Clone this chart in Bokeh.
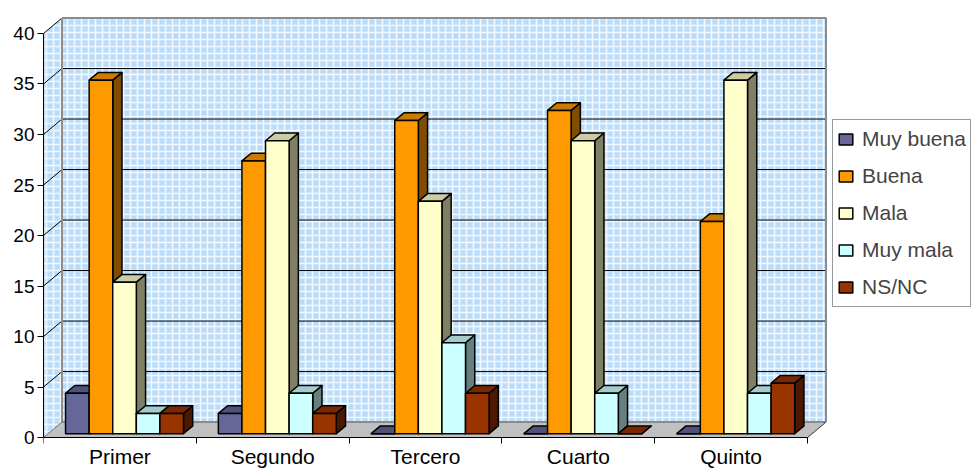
from bokeh.plotting import figure
from bokeh.models import Range1d, FixedTicker, Legend, LegendItem
from bokeh.embed import file_html
from bokeh.resources import INLINE

# ---- data -------------------------------------------------------------
categories = ["Primer", "Segundo", "Tercero", "Cuarto", "Quinto"]
series_names = ["Muy buena", "Buena", "Mala", "Muy mala", "NS/NC"]
muy_buena = [4, 2, 0, 0, 0]
buena = [35, 27, 31, 32, 21]
mala = [15, 29, 23, 29, 35]
muy_mala = [2, 4, 9, 4, 4]
ns_nc = [2, 2, 4, 0, 5]
y_ticks = [0, 5, 10, 15, 20, 25, 30, 35, 40]

series_values = [muy_buena, buena, mala, muy_mala, ns_nc]
front_colors = ["#666699", "#FF9900", "#FFFFCC", "#CCFFFF", "#993300"]

FONT = "Liberation Sans"
Y_MAX = y_ticks[-1]
N_CAT = len(categories)
N_SER = len(series_names)

# pseudo-3D geometry: full depth of the box in data units
DX = 0.121          # horizontal shift (category units)
DY = 1.53           # vertical shift (value units)
Z_FRONT, Z_BACK = 0.25, 0.75   # bars occupy the middle of the depth
GAP = 0.114         # empty space on each side of a category group
W = (1 - 2 * GAP) / N_SER


def shade(hex_color, k):
    h = hex_color.lstrip("#")
    r, g, b = (int(h[i:i + 2], 16) for i in (0, 2, 4))
    return "#%02x%02x%02x" % (int(r * k), int(g * k), int(b * k))


# the frame runs to the bottom edge; the category axis sits at value 0
p = figure(width=977, height=471, output_backend="svg", toolbar_location=None,
           x_range=Range1d(0, 934 / 152.8), y_range=Range1d(-3.366, 41.98),
           min_border_left=43, min_border_right=0, min_border_top=13,
           min_border_bottom=0)
p.outline_line_color = None
p.xgrid.visible = False
p.ygrid.visible = False
p.background_fill_color = "white"
p.border_fill_color = "white"

# ---- walls and floor ----------------------------------------------------
wall_style = dict(fill_color="#BBDCF8", hatch_pattern="+", hatch_color="white",
                  hatch_alpha=0.8, hatch_scale=7, hatch_weight=1.6, line_color=None)
# back wall
p.patch([DX, N_CAT + DX, N_CAT + DX, DX], [DY, DY, Y_MAX + DY, Y_MAX + DY], **wall_style)
# left side wall
p.patch([0, DX, DX, 0], [0, DY, Y_MAX + DY, Y_MAX], **wall_style)
# floor
p.patch([0, N_CAT, N_CAT + DX, DX], [0, 0, DY, DY],
        fill_color="#C0C0C0", line_color=None)

# gridlines on back wall and diagonals on side wall
for v in y_ticks[1:-1]:
    p.line([DX, N_CAT + DX], [v + DY, v + DY], line_color="black", line_width=1)
for v in y_ticks[1:]:
    p.line([0, DX], [v, v + DY], line_color="black", line_width=1)

# wall / floor edges
p.line([DX, DX], [DY, Y_MAX + DY], line_color="#8C8C8C", line_width=2)
p.line([DX, N_CAT + DX, N_CAT + DX], [Y_MAX + DY, Y_MAX + DY, DY],
       line_color="#8C8C8C", line_width=2)
p.line([DX, N_CAT + DX], [DY, DY], line_color="#8C8C8C", line_width=2)
p.line([0, DX], [0, DY], line_color="#707070", line_width=1)
p.line([N_CAT, N_CAT + DX], [0, DY], line_color="#333333", line_width=1)

# ---- bars ---------------------------------------------------------------
fx, fy = Z_FRONT * DX, Z_FRONT * DY
bx, by = Z_BACK * DX, Z_BACK * DY
legend_items = []
for s, (name, vals, col) in enumerate(zip(series_names, series_values, front_colors)):
    lefts = [c + GAP + s * W for c in range(N_CAT)]
    rights = [l + W for l in lefts]
    side_xs, side_ys, top_xs, top_ys = [], [], [], []
    for l, r, v in zip(lefts, rights, vals):
        side_xs.append([r + fx, r + bx, r + bx, r + fx])
        side_ys.append([fy, by, v + by, v + fy])
        top_xs.append([l + fx, r + fx, r + bx, l + bx])
        top_ys.append([v + fy, v + fy, v + by, v + by])
    p.patches(side_xs, side_ys, fill_color=shade(col, 0.5),
              line_color="black", line_width=1.5, line_join="round")
    p.patches(top_xs, top_ys, fill_color=shade(col, 0.8),
              line_color="black", line_width=1.5, line_join="round")
    front = p.quad(left=[l + fx for l in lefts], right=[r + fx for r in rights],
                   bottom=fy, top=[v + fy for v in vals],
                   fill_color=col, line_color="black", line_width=1.5)
    legend_items.append(LegendItem(label=name, renderers=[front]))

# ---- axes ---------------------------------------------------------------
yax = p.yaxis[0]
yax.ticker = FixedTicker(ticks=y_ticks)
yax.bounds = (0, Y_MAX)
yax.axis_line_color = "black"
yax.major_tick_in = 0
yax.major_tick_out = 6
yax.major_tick_line_color = "black"
yax.minor_tick_line_color = None
yax.major_label_standoff = 3
yax.major_label_text_font = FONT
yax.major_label_text_font_size = "19px"
yax.major_label_text_color = "black"

xax = p.xaxis[0]
xax.fixed_location = 0
xax.ticker = FixedTicker(ticks=[c + 0.5 for c in range(N_CAT)],
                         minor_ticks=list(range(N_CAT + 1)))
xax.major_label_overrides = {c + 0.5: name for c, name in enumerate(categories)}
xax.bounds = (0, N_CAT)
xax.axis_line_color = "black"
xax.major_tick_line_color = None
xax.minor_tick_line_color = "black"
xax.minor_tick_in = 0
xax.minor_tick_out = 6
xax.major_label_standoff = 1
xax.major_label_text_font = FONT
xax.major_label_text_font_size = "21px"
xax.major_label_text_color = "black"

# ---- legend -------------------------------------------------------------
legend = Legend(items=legend_items, location=(789, 164),
                label_text_font=FONT, label_text_font_size="21px",
                label_height=30, glyph_height=14, glyph_width=17,
                spacing=7, padding=4, margin=0, label_standoff=8,
                border_line_color="#333333", border_line_width=1,
                background_fill_color="white", background_fill_alpha=1)
p.add_layout(legend)

open("out.html", "w").write(file_html(p, INLINE))
